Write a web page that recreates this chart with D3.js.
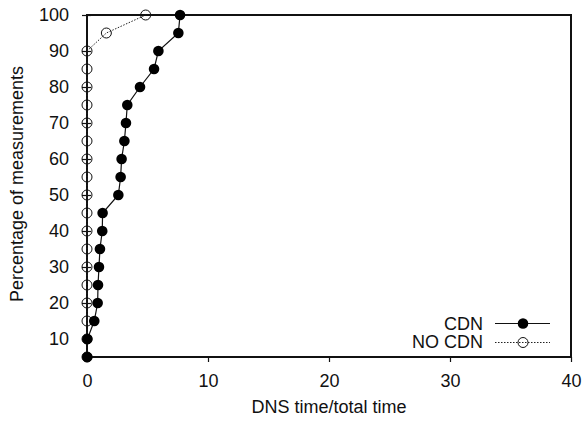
<!doctype html>
<html>
<head>
<script type='text/javascript' src='https://d3js.org/d3.v7.min.js'></script>
<style>
body { margin: 0; background: #fff; }
text { font-family: 'Liberation Sans', Arial, sans-serif; fill: #111; }
</style>
</head>
<body>
<script>
var width = 586, height = 421;
// percent of measurements (y) and DNS time / total time (x)
var percents = [5, 10, 15, 20, 25, 30, 35, 40, 45, 50, 55, 60, 65, 70, 75, 80, 85, 90, 95, 100];
var cdnVals = [0.02, 0.03, 0.6, 0.88, 0.91, 0.99, 1.07, 1.26, 1.29, 2.59, 2.78, 2.86, 3.09, 3.22, 3.33, 4.38, 5.54, 5.9, 7.55, 7.69];
var noCdnVals = [0, 0, 0, 0, 0, 0, 0, 0, 0, 0, 0, 0, 0, 0, 0, 0, 0, 0, 1.6, 4.85];
var xTicks = [0, 10, 20, 30, 40];
var yTicks = [10, 20, 30, 40, 50, 60, 70, 80, 90, 100];
var seriesNames = ['CDN', 'NO CDN'];

// plot box (note: "top" is reserved on window, so use other names)
var pLeft = 87, pRight = 571, pTop = 15, pBottom = 357;

var svg = d3.select('body').append('svg').attr('width', width).attr('height', height);

var x = d3.scaleLinear().domain([0, 40]).range([pLeft, pRight]);
var y = d3.scaleLinear().domain([5, 100]).range([pBottom, pTop]);

// x axis (ticks outward)
var xa = svg.append('g').attr('transform', 'translate(0,' + pBottom + ')')
  .call(d3.axisBottom(x).tickValues(xTicks).tickSize(5).tickSizeOuter(0).tickPadding(12));
xa.select('.domain').remove();
xa.selectAll('line').attr('stroke', '#111').attr('stroke-width', 1.2);
xa.selectAll('text').attr('font-size', 18).attr('fill', '#111').attr('font-family', 'Liberation Sans, Arial, sans-serif');

// y axis
var ya = svg.append('g').attr('transform', 'translate(' + pLeft + ',0)')
  .call(d3.axisLeft(y).tickValues(yTicks).tickSize(5).tickSizeOuter(0).tickPadding(13));
ya.select('.domain').remove();
ya.selectAll('line').attr('stroke', '#111').attr('stroke-width', 1.2).attr('x2', -5).attr('x1', 4);
ya.selectAll('text').attr('font-size', 18).attr('fill', '#111').attr('font-family', 'Liberation Sans, Arial, sans-serif');

// frame
svg.append('rect').attr('x', pLeft).attr('y', pTop).attr('width', pRight - pLeft).attr('height', pBottom - pTop)
  .attr('fill', 'none').attr('stroke', '#111').attr('stroke-width', 2);

// titles
svg.append('text').attr('x', (pLeft + pRight) / 2).attr('y', 413).attr('text-anchor', 'middle')
  .attr('font-size', 18).text('DNS time/total time');
svg.append('text').attr('transform', 'translate(23,184) rotate(-90)').attr('text-anchor', 'middle')
  .attr('font-size', 18).text('Percentage of measurements');

var line = d3.line().x(function(d) { return x(d[0]); }).y(function(d) { return y(d[1]); });
var noCdn = noCdnVals.map(function(v, i) { return [v, percents[i]]; });
var cdn = cdnVals.map(function(v, i) { return [v, percents[i]]; });

// NO CDN first so CDN points sit on top
svg.append('path').datum(noCdn).attr('d', line).attr('fill', 'none')
  .attr('stroke', '#222').attr('stroke-width', 1).attr('stroke-dasharray', '1.5,1.5');
svg.selectAll('circle.nocdn').data(noCdn).join('circle').attr('class', 'nocdn')
  .attr('cx', function(d) { return x(d[0]); }).attr('cy', function(d) { return y(d[1]); })
  .attr('r', 5).attr('fill', 'none').attr('stroke', '#111').attr('stroke-width', 1);

svg.append('path').datum(cdn).attr('d', line).attr('fill', 'none')
  .attr('stroke', '#111').attr('stroke-width', 1.2);
svg.selectAll('circle.cdn').data(cdn).join('circle').attr('class', 'cdn')
  .attr('cx', function(d) { return x(d[0]); }).attr('cy', function(d) { return y(d[1]); })
  .attr('r', 5.3).attr('fill', '#000');

// legend
var leg = svg.append('g');
leg.append('text').attr('x', 483).attr('y', 330).attr('text-anchor', 'end').attr('font-size', 18).text(seriesNames[0]);
leg.append('line').attr('x1', 495).attr('x2', 550).attr('y1', 323.5).attr('y2', 323.5).attr('stroke', '#111').attr('stroke-width', 1.2);
leg.append('circle').attr('cx', 523).attr('cy', 323.5).attr('r', 5.3).attr('fill', '#000');
leg.append('text').attr('x', 483).attr('y', 348).attr('text-anchor', 'end').attr('font-size', 18).text(seriesNames[1]);
leg.append('line').attr('x1', 495).attr('x2', 550).attr('y1', 342.5).attr('y2', 342.5).attr('stroke', '#222').attr('stroke-width', 1).attr('stroke-dasharray', '1.5,1.5');
leg.append('circle').attr('cx', 523).attr('cy', 342.5).attr('r', 5).attr('fill', 'none').attr('stroke', '#111');
</script>
</body>
</html>
